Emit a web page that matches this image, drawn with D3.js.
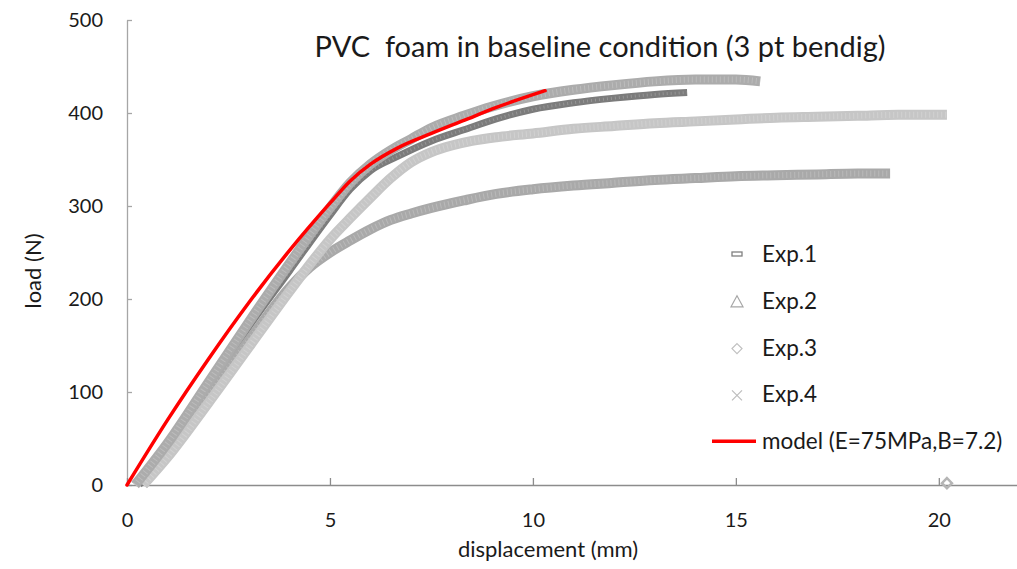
<!DOCTYPE html>
<html>
<head>
<meta charset="utf-8">
<script src="https://cdn.jsdelivr.net/npm/d3@7"></script>
<style>
  body { margin: 0; background: #fff; }
  svg { display: block; font-family: Lato, "Open Sans", sans-serif; }
</style>
</head>
<body>
<div id="chart"></div>
<script>
// values: [displacement mm, load N]
const exp1 = [[0.3,0],[1,40],[2,105],[3,170],[4,230],[5,290],[5.5,318],[6,338],[6.65,353],[7.5,370],[8.3,382],[9.2,395],[10,404],[11,411],[12,416],[13,420],[13.8,422]];
const exp2 = [[0.4,0],[1,35],[2,95],[3,155],[4,212],[4.5,234],[5,250],[5.5,263],[6,275],[6.5,285],[7,292],[7.5,298],[8.3,306],[9.1,313],[10,318],[11,322],[12,325],[13,328],[14,330],[15,332],[16,333],[17,334],[18,335],[18.8,335]];
const exp3 = [[0.4,0],[1,30],[2,88],[3,148],[4,208],[4.5,237],[5,264],[5.5,287],[6,309],[6.5,330],[7,347],[7.5,358],[8,365],[8.5,370],[9.1,374],[10,378],[11,383],[12,386],[13,389],[14,391],[15,393],[16,395],[17,396],[18,397],[19,398],[20.2,398]];
const exp3Tail = [[20.2,2]];
const exp4 = [[0.2,0],[1,45],[2,110],[3,175],[4,238],[5,298],[5.5,325],[6,345],[6.5,360],[7,372],[7.5,384],[8.3,397],[9,407],[10,418],[11,425],[12,430],[13,434],[14,436],[15,436],[15.6,434]];
const model = [[0,0],[1,70],[2,135],[3,196],[4,252],[5,303],[5.5,327],[6,345],[6.65,362],[7.5,378],[8.3,392],[9.1,406],[10.3,424]];

const xTicks = [0, 5, 10, 15, 20];
const yTicks = [0, 100, 200, 300, 400, 500];
const legendNames = ["Exp.1", "Exp.2", "Exp.3", "Exp.4", "model (E=75MPa,B=7.2)"];

const width = 1017, height = 569;

const svg = d3.select("#chart").append("svg")
    .attr("width", width)
    .attr("height", height);

const x = d3.scaleLinear().domain([0, 22]).range([127, 1020]);
const y = d3.scaleLinear().domain([0, 500]).range([485, 20]);

// axes
const yAxis = svg.append("g")
    .attr("transform", `translate(${x(0)},0)`)
    .call(d3.axisLeft(y).tickValues(yTicks).tickSize(-5).tickSizeOuter(0).tickPadding(24));
yAxis.select(".domain").attr("stroke", "#a6a6a6").attr("stroke-width", 1.3);
yAxis.selectAll(".tick line").attr("stroke", "#a6a6a6").attr("stroke-width", 1.3);
yAxis.selectAll("text").attr("font-size", 20).attr("fill", "#1a1a1a")
    .attr("font-family", "Lato, sans-serif");

const xAxis = svg.append("g")
    .attr("transform", `translate(0,${y(0)})`)
    .call(d3.axisBottom(x).tickValues(xTicks).tickSize(-7).tickSizeOuter(0).tickPadding(28));
xAxis.select(".domain").attr("stroke", "#8c8c8c").attr("stroke-width", 1.3);
xAxis.selectAll(".tick line").attr("stroke", "#8c8c8c").attr("stroke-width", 1.3);
xAxis.selectAll("text").attr("font-size", 20).attr("fill", "#1a1a1a")
    .attr("font-family", "Lato, sans-serif");

// experimental bands (dense markers appear as thick bands)
const line = d3.line()
    .x(d => x(d[0]))
    .y(d => y(d[1]))
    .curve(d3.curveMonotoneX);

const series = [
  { data: exp1, color: "#7c7c7c", w: 7 },
  { data: exp2, color: "#a9a9a9", w: 10 },
  { data: exp3, color: "#c6c6c6", w: 10 },
  { data: exp4, color: "#acacac", w: 10 }
];

series.forEach(s => {
  svg.append("path")
      .attr("d", line(s.data))
      .attr("fill", "none")
      .attr("stroke", s.color)
      .attr("stroke-width", s.w)
      .attr("stroke-linecap", "butt");
  // light speckle to mimic overlapping markers
  svg.append("path")
      .attr("d", line(s.data))
      .attr("fill", "none")
      .attr("stroke", "#fff")
      .attr("stroke-opacity", 0.2)
      .attr("stroke-width", s.w - 4)
      .attr("stroke-dasharray", "1,3");
});

// diamond as a rotated square
const diamond = "M0,-5L5,0L0,5L-5,0Z";

// stray exp.3 point at the end
svg.selectAll(".tail")
    .data(exp3Tail)
    .enter().append("path")
    .attr("class", "tail")
    .attr("transform", d => `translate(${x(d[0])},${y(d[1])})`)
    .attr("d", diamond)
    .attr("fill", "none")
    .attr("stroke", "#b5b5b5")
    .attr("stroke-width", 2.5);

// model curve
svg.append("path")
    .attr("d", line(model))
    .attr("fill", "none")
    .attr("stroke", "#ff0000")
    .attr("stroke-width", 3.5)
    .attr("stroke-linecap", "round");

// title
svg.append("text")
    .attr("x", 600)
    .attr("y", 57)
    .attr("text-anchor", "middle")
    .style("white-space", "pre")
    .attr("font-size", 29)
    .attr("fill", "#1a1a1a")
    .text("PVC  foam in baseline condition (3 pt bendig)");

// axis titles
svg.append("text")
    .attr("transform", "translate(41,271) rotate(-90)")
    .attr("text-anchor", "middle")
    .attr("font-size", 22)
    .attr("fill", "#1a1a1a")
    .text("load (N)");

svg.append("text")
    .attr("x", 548)
    .attr("y", 557)
    .attr("text-anchor", "middle")
    .attr("font-size", 22)
    .attr("fill", "#1a1a1a")
    .text("displacement (mm)");

// legend
const legend = svg.append("g").attr("transform", "translate(737,254)");
const rowH = 46.8;

legend.selectAll("text")
    .data(legendNames)
    .enter().append("text")
    .attr("x", 25)
    .attr("y", (d, i) => i * rowH + 8)
    .attr("font-size", 22.5)
    .attr("fill", "#1a1a1a")
    .text(d => d);

// Exp.1 dash marker
legend.append("rect")
    .attr("x", -5).attr("y", -2).attr("width", 10).attr("height", 4)
    .attr("fill", "none").attr("stroke", "#808080").attr("stroke-width", 1.3);
// Exp.2 triangle
legend.append("path")
    .attr("transform", `translate(0,${rowH + 1})`)
    .attr("d", "M0,-6L6,5L-6,5Z")
    .attr("fill", "none").attr("stroke", "#a6a6a6").attr("stroke-width", 1.2);
// Exp.3 diamond
legend.append("path")
    .attr("transform", `translate(0,${rowH * 2 + 1})`)
    .attr("d", diamond)
    .attr("fill", "none").attr("stroke", "#c0c0c0").attr("stroke-width", 1.2);
// Exp.4 cross
legend.append("path")
    .attr("d", "M-5,-5L5,5M5,-5L-5,5")
    .attr("transform", `translate(0,${rowH * 3 + 1})`)
    .attr("stroke", "#bdbdbd").attr("stroke-width", 1.2);
// model line
legend.append("line")
    .attr("x1", -25).attr("x2", 19)
    .attr("y1", rowH * 4).attr("y2", rowH * 4)
    .attr("stroke", "#ff0000").attr("stroke-width", 3.5);
</script>
</body>
</html>
